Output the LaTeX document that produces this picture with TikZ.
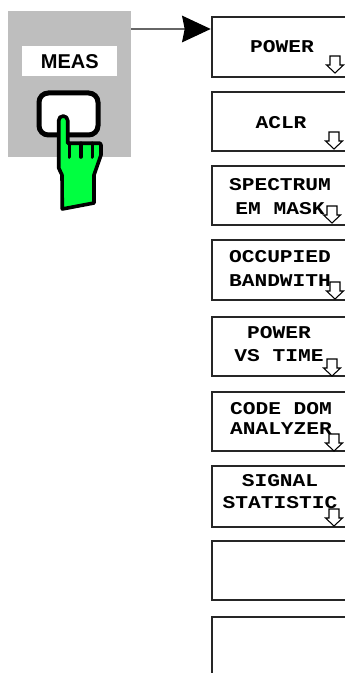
\documentclass[tikz,border=0pt]{standalone}
\usepackage{fontspec}
\usetikzlibrary{arrows.meta}
\newfontfamily\softfont[FakeStretch=1.18,BoldFeatures={FakeStretch=1.18}]{Liberation Mono}
\newfontfamily\panelfont{Liberation Sans}
\definecolor{panelgrey}{HTML}{BEBEBE}
\definecolor{handgreen}{HTML}{00FF40}
\tikzset{
 softkey/.style={draw=black!85,fill=white,line width=0.9pt,anchor=north west,inner sep=0pt,outer sep=0pt,minimum width=127.5pt,minimum height=#1*0.75pt},
 softlabel/.style={align=center,inner sep=0pt,font=\softfont\bfseries\fontsize{13.5}{17}\selectfont},
 softarrow/.pic={\draw[black,fill=white,line width=0.8pt,line join=miter]
  (-5,-17) -- (5,-17) -- (5,-8) -- (8.5,-8) -- (0,0) -- (-8.5,-8) -- (-5,-8) -- cycle;}
}
\begin{document}
\begin{tikzpicture}[x=0.75pt,y=-0.75pt]
\useasboundingbox (0,0) rectangle (344,673);
% front panel key
\node [fill=panelgrey,inner sep=0pt,anchor=north west,minimum width=92.25pt,minimum height=109.5pt] (panel) at (8,11) {};
\node [fill=white,inner sep=0pt,anchor=north west,minimum width=71.25pt,minimum height=22.5pt,font=\panelfont\bfseries\fontsize{15}{18}\selectfont] (meas) at (22,46) {MEAS};
\node [draw=black,fill=white,line width=3.75pt,rounded corners=7pt,inner sep=0pt,anchor=north west,minimum width=44.25pt,minimum height=31.5pt] (button) at (36.5,90.5) {};
% hand
\draw[black,fill=handgreen,line width=2.7pt,line join=round]
 (58.7,168) -- (58.7,120.5) arc (180:360:4.5) -- (67.7,143.3) -- (100,143.3) -- (101,145) -- (101,155)
 -- (94,175) -- (94,203) -- (62.3,209) -- (62,175) -- cycle;
\foreach \fx in {69.3,80.7,92.3}
 \draw[black,line width=2.7pt,line cap=round] (\fx,143.3) -- (\fx,157);
% softkeys
\node [softkey=60] (power) at (212,17) {};
\node [softkey=59] (aclr) at (212,92) {};
\node [softkey=59] (spectrum) at (212,166) {};
\node [softkey=60] (occupied) at (212,240) {};
\node [softkey=59] (powertime) at (212,317) {};
\node [softkey=59] (codedom) at (212,392) {};
\node [softkey=61] (signal) at (212,466) {};
\node [softkey=59] (blanka) at (212,541) {};
\node [softkey=90] (blankb) at (212,617) {};
% softkey texts
\node [softlabel] (powertext) at (282,47) {POWER};
\node [softlabel] (aclrtext) at (281,123) {ACLR};
\node [softlabel] (spectrumtext) at (280,196.5) {SPECTRUM\\[1.5pt]EM MASK};
\node [softlabel] (occupiedtext) at (280,268) {OCCUPIED\\[1pt]BANDWITH};
\node [softlabel] (powertimetext) at (279,344) {POWER\\VS TIME};
\node [softlabel] (codedomtext) at (281,418) {CODE DOM\\[-2pt]ANALYZER};
\node [softlabel] (signaltext) at (280,491.5) {SIGNAL\\[-1pt]STATISTIC};
% softkey menu arrows
\foreach \ax/\ay in {335/73,334/149,332/223,335/299,332/376,334/451,334/526}
 \pic at (\ax,\ay) {softarrow};
% connector to the menu
\coordinate (menustart) at (131,29);
\coordinate (menuend) at (210.7,29);
\draw[black!60,line width=0.9pt,-{Stealth[black,length=21.5pt,width=20pt,inset=2pt]}] (menustart) -- (menuend);
\end{tikzpicture}
\end{document}
